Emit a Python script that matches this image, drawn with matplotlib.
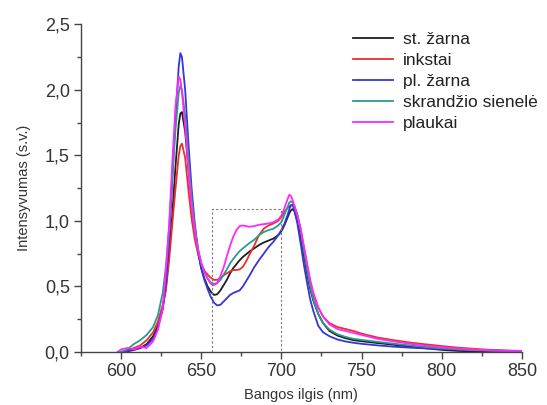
import numpy as np
import matplotlib
matplotlib.use("Agg")
import matplotlib.pyplot as plt
from matplotlib.ticker import MultipleLocator, FuncFormatter

plt.rcParams['font.family'] = ['Liberation Sans', 'DejaVu Sans']

# wavelength grid (nm)
wl = [598, 600, 604, 608, 612, 616, 620, 623, 626, 628, 630, 632, 634, 636, 637, 638,
      640, 642, 644, 646, 648, 650, 652, 654, 656, 658, 660, 662, 664, 666, 668, 670,
      672, 674, 676, 678, 680, 683, 686, 689, 692, 695, 698, 700, 702, 704, 705, 706,
      707, 708, 710, 712, 714, 716, 718, 720, 723, 726, 730, 735, 740, 745, 750, 760,
      770, 780, 790, 800, 810, 820, 830, 840, 850]

st_zarna = [0, 0, 0.005, 0.015, 0.03, 0.06, 0.12, 0.2, 0.33, 0.5, 0.75, 1.05, 1.42, 1.74, 1.82, 1.83,
            1.68, 1.40, 1.13, 0.92, 0.76, 0.64, 0.56, 0.50, 0.46, 0.435, 0.44, 0.47, 0.51, 0.55, 0.60, 0.64,
            0.67, 0.70, 0.725, 0.745, 0.765, 0.79, 0.815, 0.835, 0.85, 0.865, 0.89, 0.92, 0.97, 1.03, 1.06, 1.08,
            1.09, 1.08, 1.0, 0.88, 0.74, 0.60, 0.48, 0.39, 0.29, 0.22, 0.16, 0.125, 0.105, 0.09, 0.082, 0.068,
            0.055, 0.04, 0.028, 0.016, 0.008, 0.004, 0.002, 0.001, 0.0]

inkstai = [0, 0, 0.01, 0.03, 0.05, 0.09, 0.15, 0.23, 0.36, 0.47, 0.70, 0.98, 1.25, 1.50, 1.57, 1.59,
           1.48, 1.24, 1.02, 0.86, 0.75, 0.67, 0.62, 0.59, 0.565, 0.55, 0.55, 0.565, 0.585, 0.60, 0.615, 0.625,
           0.625, 0.63, 0.65, 0.69, 0.74, 0.81, 0.89, 0.94, 0.965, 0.98, 1.00, 1.03, 1.07, 1.10, 1.11, 1.12,
           1.12, 1.11, 1.04, 0.94, 0.80, 0.66, 0.53, 0.44, 0.34, 0.27, 0.22, 0.19, 0.175, 0.16, 0.14, 0.11,
           0.09, 0.072, 0.058, 0.045, 0.033, 0.024, 0.016, 0.01, 0.006]

pl_zarna = [0, 0, 0.01, 0.02, 0.03, 0.05, 0.10, 0.18, 0.33, 0.52, 0.87, 1.32, 1.80, 2.18, 2.28, 2.25,
            2.0, 1.60, 1.25, 0.98, 0.78, 0.64, 0.55, 0.48, 0.42, 0.375, 0.355, 0.36, 0.385, 0.41, 0.435, 0.45,
            0.46, 0.47, 0.50, 0.54, 0.58, 0.645, 0.70, 0.75, 0.80, 0.84, 0.89, 0.93, 0.98, 1.05, 1.09, 1.12,
            1.12, 1.09, 0.98, 0.83, 0.67, 0.53, 0.40, 0.31, 0.20, 0.15, 0.12, 0.095, 0.08, 0.07, 0.062, 0.05,
            0.04, 0.033, 0.027, 0.022, 0.018, 0.015, 0.012, 0.01, 0.008]

skrandis = [0, 0, 0.02, 0.06, 0.09, 0.13, 0.19, 0.28, 0.45, 0.65, 0.95, 1.34, 1.70, 1.98, 2.03, 2.0,
            1.80, 1.48, 1.18, 0.95, 0.79, 0.68, 0.61, 0.56, 0.53, 0.52, 0.525, 0.55, 0.59, 0.63, 0.675, 0.71,
            0.74, 0.77, 0.79, 0.81, 0.83, 0.855, 0.89, 0.915, 0.93, 0.94, 0.965, 0.99, 1.05, 1.11, 1.14, 1.15,
            1.14, 1.12, 1.05, 0.93, 0.78, 0.63, 0.50, 0.40, 0.29, 0.22, 0.17, 0.135, 0.115, 0.10, 0.092, 0.077,
            0.063, 0.05, 0.038, 0.028, 0.02, 0.014, 0.01, 0.008, 0.006]

plaukai = [0, 0.02, 0.03, 0.02, 0.04, 0.03, 0.08, 0.17, 0.33, 0.62, 0.97, 1.45, 1.88, 2.10, 2.08, 1.98,
           1.72, 1.40, 1.12, 0.92, 0.78, 0.68, 0.61, 0.56, 0.52, 0.51, 0.525, 0.58, 0.645, 0.73, 0.81, 0.88,
           0.93, 0.96, 0.965, 0.96, 0.955, 0.96, 0.97, 0.975, 0.98, 0.99, 1.01, 1.04, 1.10, 1.17, 1.20, 1.19,
           1.16, 1.12, 1.04, 0.94, 0.81, 0.68, 0.55, 0.45, 0.34, 0.27, 0.21, 0.175, 0.16, 0.145, 0.13, 0.10,
           0.08, 0.063, 0.048, 0.036, 0.026, 0.018, 0.012, 0.008, 0.006]

labels = ["st. žarna", "inkstai", "pl. žarna", "skrandžio sienelė", "plaukai"]
colors = ["#1e1e1e", "#e8302a", "#3535d8", "#2a9a8a", "#ff28ff"]
series = [st_zarna, inkstai, pl_zarna, skrandis, plaukai]

# dashed box region
box_x = [657, 700]
box_top = 1.087

fig = plt.figure(figsize=(5.47, 4.05), dpi=100)
ax = fig.add_axes([0.148, 0.131, 0.806, 0.809])

for vals, lab, col in zip(series, labels, colors):
    ax.plot(wl, vals, color=col, lw=1.3, label=lab)

ax.plot([box_x[0], box_x[0], box_x[1], box_x[1]], [0, box_top, box_top, 0],
        color="#777777", lw=0.8, ls=(0, (2, 2)))

ax.set_xlim(575, 850)
ax.set_ylim(0, 2.5)
ax.xaxis.set_major_locator(MultipleLocator(50))
ax.xaxis.set_minor_locator(MultipleLocator(25))
ax.yaxis.set_major_locator(MultipleLocator(0.5))
ax.yaxis.set_minor_locator(MultipleLocator(0.25))
ax.yaxis.set_major_formatter(FuncFormatter(lambda v, p: f"{v:.1f}".replace('.', ',')))

for s in ["top", "right"]:
    ax.spines[s].set_visible(False)
for s in ["left", "bottom"]:
    ax.spines[s].set_color("#444444")
    ax.spines[s].set_linewidth(1.0)

ax.tick_params(which="major", length=5, width=1, color="#444444",
               labelsize=13, labelcolor="#333333", pad=3)
ax.tick_params(which="minor", length=3, width=1, color="#444444")

ax.set_xlabel("Bangos ilgis (nm)", fontsize=10.5, color="#333333", labelpad=6)
ax.set_ylabel("Intensyvumas (s.v.)", fontsize=10.5, color="#333333", labelpad=10)

leg = ax.legend(loc="upper left", bbox_to_anchor=(353 / 547, 1 - 32 / 405),
                bbox_transform=fig.transFigure, frameon=False, fontsize=12.5,
                handlelength=2.3, handletextpad=0.6, labelspacing=0.33,
                borderpad=0, borderaxespad=0)
for t in leg.get_texts():
    t.set_color("#222222")

fig.savefig("out.png", dpi=100)
